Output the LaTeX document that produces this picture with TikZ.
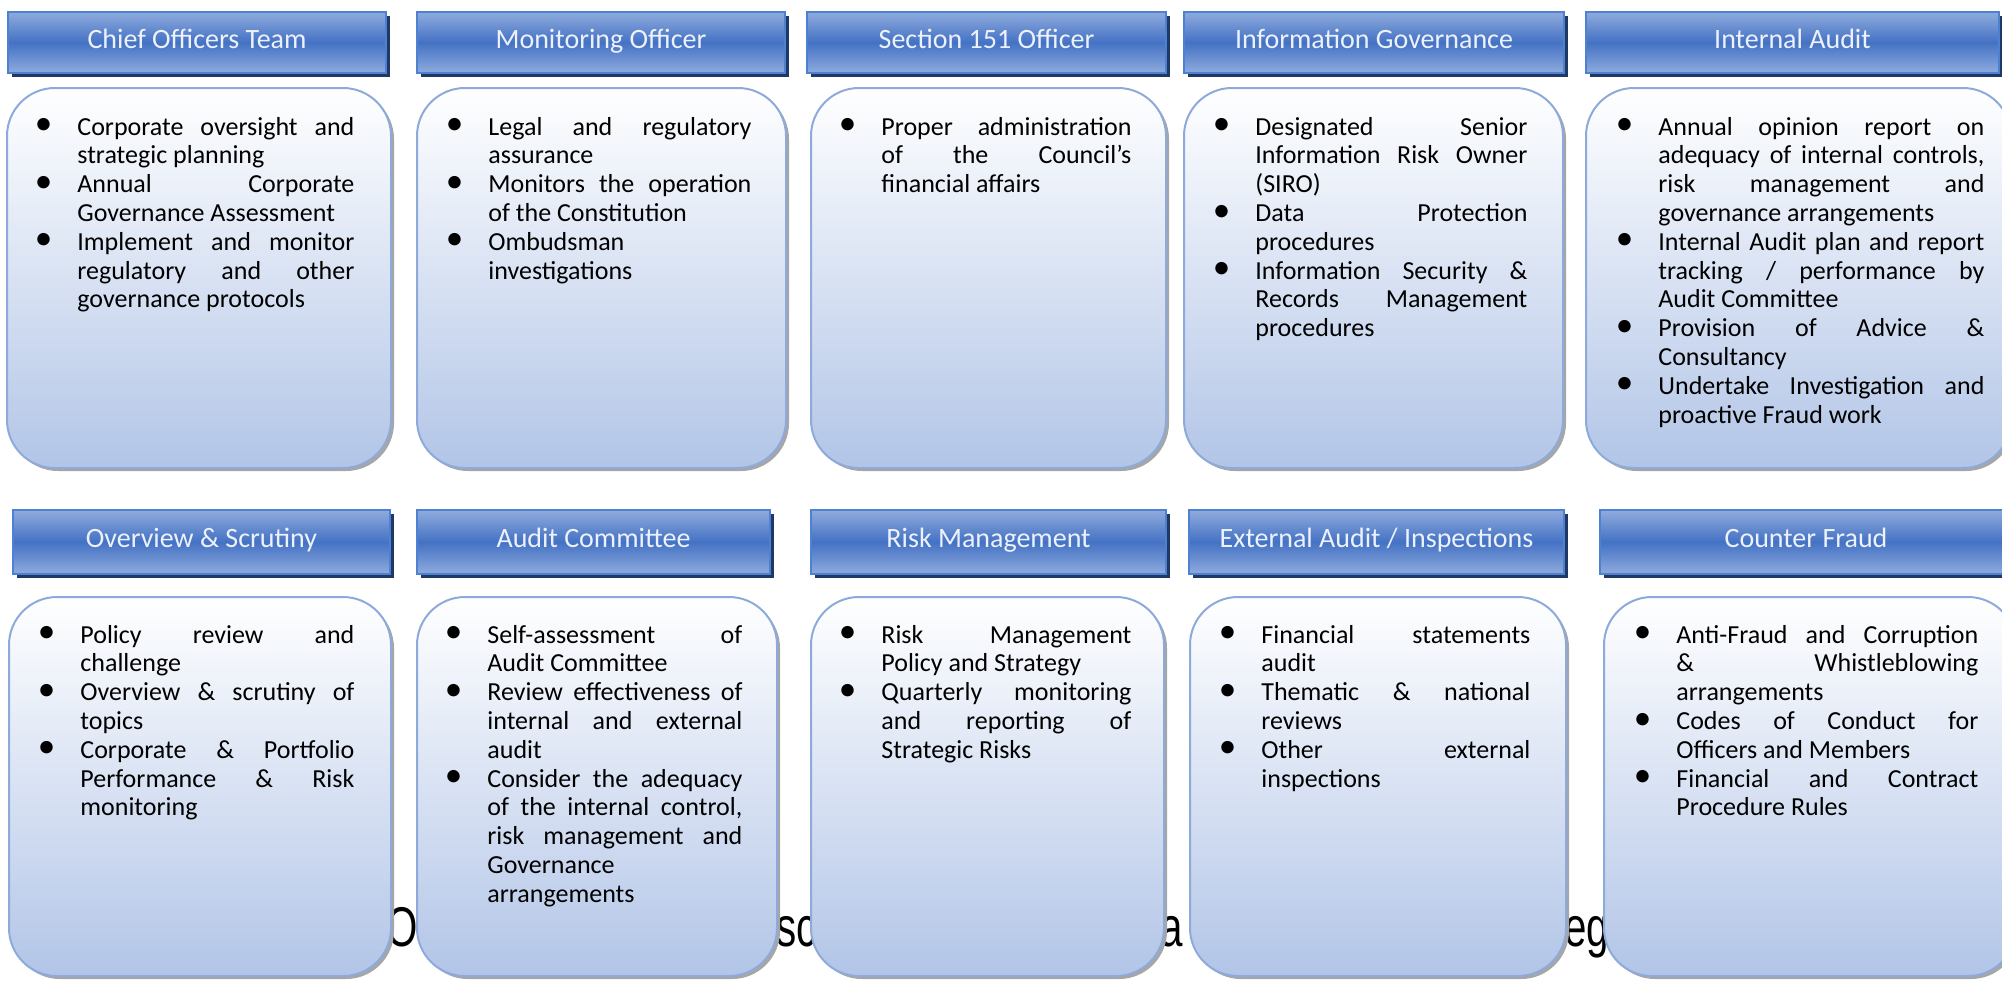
\documentclass[tikz,border=0pt]{standalone}
\usepackage{fontspec}
\setmainfont{Carlito}
\newfontfamily\backfont[FakeStretch=0.72]{Liberation Sans}
\usepackage{tikz}
\usetikzlibrary{shadows}

\definecolor{hdrlight}{RGB}{143,171,221}
\definecolor{hdrdark}{RGB}{68,114,196}
\definecolor{hdrline}{RGB}{79,129,210}
\definecolor{hdrshade}{RGB}{31,56,100}
\definecolor{hdrtext}{RGB}{236,241,250}
\definecolor{panelline}{RGB}{142,170,219}
\definecolor{panelbottom}{RGB}{178,197,231}

\newcommand{\hdrfont}{\fontsize{14}{16}\selectfont}
\newcommand{\bodyfont}{\fontsize{13}{14.4}\selectfont\tolerance=10000\hyphenpenalty=10000\exhyphenpenalty=10000}
\newcommand{\bul}{\llap{\raisebox{0.2pt}{\scalebox{1.35}{\textbullet}}\hskip 12.5pt}}
\newcommand{\itm}{\par\noindent\bul}

\tikzset{
	hdr/.style={draw=hdrline, line width=1pt, top color=hdrlight, bottom color=hdrlight, middle color=hdrdark,
		drop shadow={shadow xshift=2pt, shadow yshift=-2pt, fill=hdrshade, opacity=1},
		anchor=north west, inner sep=0pt, text=hdrtext, font=\hdrfont, text height=9.5pt, text depth=4pt},
	panel/.style={draw=panelline, line width=1pt, rounded corners=24pt, top color=white, bottom color=panelbottom,
		drop shadow={shadow xshift=1.5pt, shadow yshift=-1.5pt, fill=black!35, opacity=1},
		anchor=north west, inner sep=0pt},
	items/.style={anchor=base west, inner sep=0pt, align=justify, font=\bodyfont},
	back/.style={anchor=base west, inner sep=0pt, font=\backfont\fontsize{28}{30}\selectfont}
}

\begin{document}
\begin{tikzpicture}[x=0.5pt,y=-0.5pt]

\useasboundingbox (0,0) rectangle (2002,981);

% text of the page behind
\node[back] (bk1) at (386,946) {O};
\node[back] (bk2) at (776,946) {sc};
\node[back] (bk3) at (1138,946) {na};
\node[back] (bk4) at (1564,946) {eg};

% top row
\node[panel, minimum width=192pt, minimum height=190pt] (p1) at (6,87) {};
\node[hdr, minimum width=189pt, minimum height=30.5pt] (h1) at (7,11) {Chief Officers Team};
\node[items, text width=138.5pt] (t1) at (77,135) {%
\bul Corporate oversight and\linebreak strategic planning
\itm Annual Corporate\linebreak Governance Assessment
\itm Implement and monitor\linebreak regulatory and other\linebreak governance protocols};

\node[panel, minimum width=184.5pt, minimum height=190pt] (p2) at (416,87) {};
\node[hdr, minimum width=184pt, minimum height=30.5pt] (h2) at (416,11) {Monitoring Officer};
\node[items, text width=131.5pt] (t2) at (488,135) {%
\bul Legal and regulatory\linebreak assurance
\itm Monitors the operation\linebreak of the Constitution
\itm Ombudsman\linebreak investigations};

\node[panel, minimum width=177.5pt, minimum height=190pt] (p3) at (810,87) {};
\node[hdr, minimum width=179.5pt, minimum height=30.5pt] (h3) at (806,11) {Section 151 Officer};
\node[items, text width=125pt] (t3) at (881,135) {%
\bul Proper administration\linebreak of the Council’s\linebreak financial affairs};

\node[panel, minimum width=189.5pt, minimum height=190pt] (p4) at (1183,87) {};
\node[hdr, minimum width=190pt, minimum height=30.5pt] (h4) at (1183,11) {Information Governance};
\node[items, text width=136pt] (t4) at (1255,135) {%
\bul Designated Senior\linebreak Information Risk Owner\linebreak (SIRO)
\itm Data Protection\linebreak procedures
\itm Information Security \&\linebreak Records Management\linebreak procedures};

\node[panel, minimum width=212.5pt, minimum height=190pt] (p5) at (1585,87) {};
\node[hdr, minimum width=206.5pt, minimum height=30.5pt] (h5) at (1585,11) {Internal Audit};
\node[items, text width=163pt] (t5) at (1658,135) {%
\bul Annual opinion report on\linebreak adequacy of internal controls,\linebreak risk management and\linebreak governance arrangements
\itm Internal Audit plan and report\linebreak tracking / performance by\linebreak Audit Committee
\itm Provision of Advice \&\linebreak Consultancy
\itm Undertake Investigation and\linebreak proactive Fraud work};

% bottom row
\node[panel, minimum width=191pt, minimum height=189.5pt] (p6) at (8,596) {};
\node[hdr, minimum width=188.5pt, minimum height=32pt] (h6) at (12,509) {Overview \& Scrutiny};
\node[items, text width=137pt] (t6) at (80,643) {%
\bul Policy review and\linebreak challenge
\itm Overview \& scrutiny of\linebreak topics
\itm Corporate \& Portfolio\linebreak Performance \& Risk\linebreak monitoring};

\node[panel, minimum width=180pt, minimum height=189.5pt] (p7) at (416,596) {};
\node[hdr, minimum width=176.5pt, minimum height=32pt] (h7) at (416,509) {Audit Committee};
\node[items, text width=127.5pt] (t7) at (487,643) {%
\bul Self-assessment of\linebreak Audit Committee
\itm Review effectiveness of\linebreak internal and external\linebreak audit
\itm Consider the adequacy\linebreak of the internal control,\linebreak risk management and\linebreak Governance\linebreak arrangements};

\node[panel, minimum width=176.5pt, minimum height=189.5pt] (p8) at (810,596) {};
\node[hdr, minimum width=177.5pt, minimum height=32pt] (h8) at (810,509) {Risk Management};
\node[items, text width=125pt] (t8) at (881,643) {%
\bul Risk Management\linebreak Policy and Strategy
\itm Quarterly monitoring\linebreak and reporting of\linebreak Strategic Risks};

\node[panel, minimum width=188pt, minimum height=189.5pt] (p9) at (1189,596) {};
\node[hdr, minimum width=187.5pt, minimum height=32pt] (h9) at (1188,509) {External Audit / Inspections};
\node[items, text width=134.5pt] (t9) at (1261,643) {%
\bul Financial statements\linebreak audit
\itm Thematic \& national\linebreak reviews
\itm Other external\linebreak inspections};

\node[panel, minimum width=206pt, minimum height=189.5pt] (p10) at (1603,596) {};
\node[hdr, minimum width=206pt, minimum height=32pt] (h10) at (1599,509) {Counter Fraud};
\node[items, text width=151pt] (t10) at (1676,643) {%
\bul Anti-Fraud and Corruption\linebreak \& Whistleblowing\linebreak arrangements
\itm Codes of Conduct for\linebreak Officers and Members
\itm Financial and Contract\linebreak Procedure Rules};

\end{tikzpicture}
\end{document}
